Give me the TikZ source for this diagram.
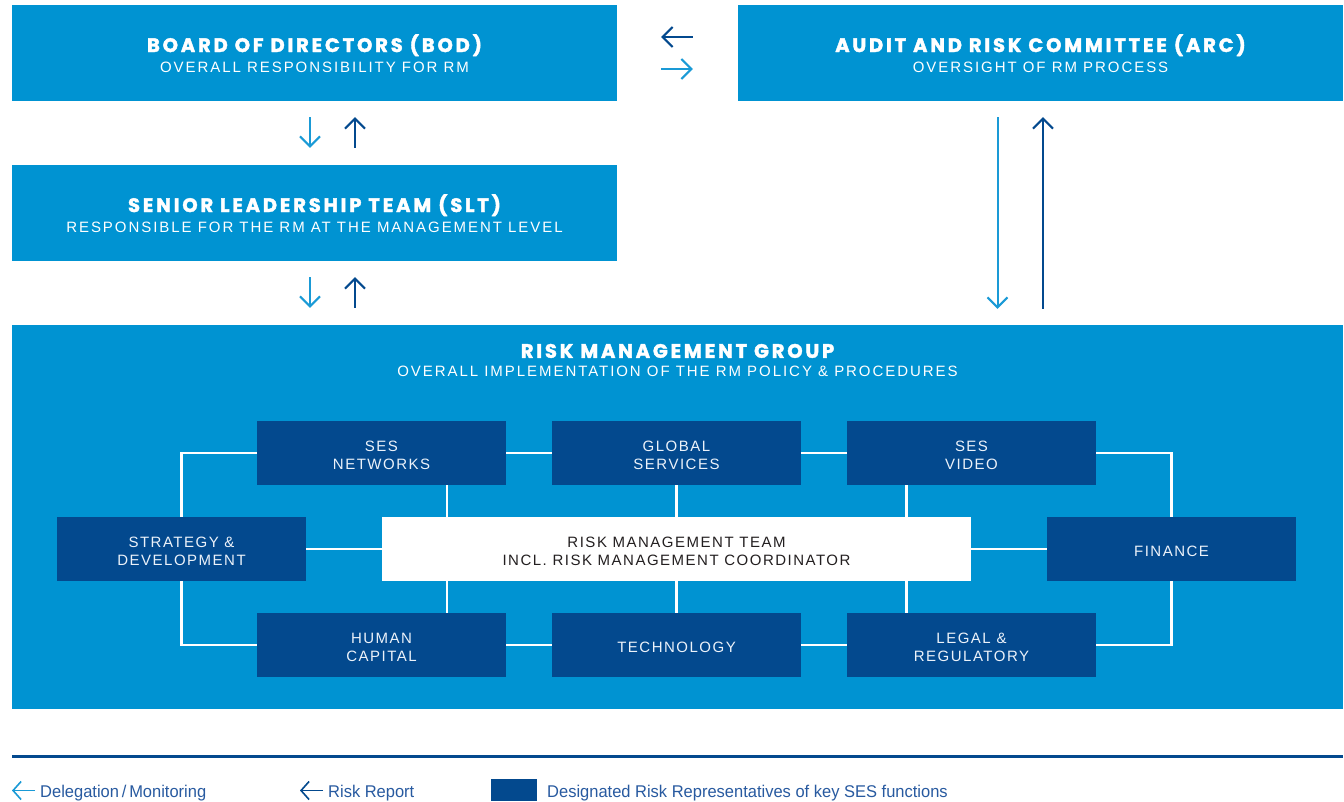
\documentclass[tikz,border=0pt]{standalone}
\usepackage{fontspec}
\setmainfont{Liberation Sans}
\newfontfamily\titlefont[LetterSpace=14.5, BoldFeatures={FakeBold=2}]{Poppins}
\newfontfamily\subfont[LetterSpace=13]{Liberation Sans}
\newfontfamily\boxfont[LetterSpace=10]{Liberation Sans}
\newfontfamily\legfont[FakeStretch=0.97]{Liberation Sans}
\usetikzlibrary{arrows.meta}
\definecolor{lblue}{RGB}{0,147,210}
\definecolor{dblue}{RGB}{3,73,142}
\definecolor{arrlight}{RGB}{26,154,214}
\definecolor{legtext}{RGB}{40,90,160}
\definecolor{teamtext}{RGB}{35,31,32}
\definecolor{boxwhite}{RGB}{236,242,250}
\newcommand\topstrut{\rule{0pt}{15.7pt}}
\begin{document}
\begin{tikzpicture}[x=1pt,y=-1pt,
  mainbox/.style={fill=lblue, inner sep=0pt, minimum width=605pt, minimum height=96pt},
  funcbox/.style={fill=dblue, inner sep=0pt, minimum width=249pt, minimum height=64pt,
    text=boxwhite, align=center, font=\boxfont\fontsize{15}{18.3}\selectfont},
  teambox/.style={fill=white, inner sep=0pt, minimum width=589pt, minimum height=64pt,
    text=teamtext, align=center, font=\boxfont\fontsize{15}{18.3}\selectfont},
  titletext/.style={text=white, inner sep=0pt, anchor=base, font=\titlefont\bfseries\fontsize{19.5}{20}\selectfont},
  subtext/.style={text=white, inner sep=0pt, anchor=base, font=\subfont\fontsize{15}{18}\selectfont},
  linkline/.style={draw=white, line width=2.5pt},
  delegate/.style={draw=arrlight, line width=2pt, -{Straight Barb[length=10pt,width=20pt]}},
  report/.style={draw=dblue, line width=2pt, -{Straight Barb[length=10pt,width=20pt]}},
  legendtext/.style={text=legtext, inner sep=0pt, anchor=base west, font=\legfont\fontsize{17}{18}\selectfont}
]
\useasboundingbox (0,0) rectangle (1344,801);
\fill[white] (0,0) rectangle (1344,801);

% main boxes
\node[mainbox] (bod) at (314.5,53) {};
\node[mainbox] (arc) at (1040.5,53) {};
\node[mainbox] (slt) at (314.5,213) {};
\node[fill=lblue, inner sep=0pt, minimum width=1331pt, minimum height=384pt] (rmg) at (677.5,517) {};

\node[titletext] (bodt) at ([yshift=1pt]bod.center) {BOARD OF DIRECTORS (BOD)};
\node[subtext] (bods) at ([yshift=-19pt]bod.center) {OVERALL RESPONSIBILITY FOR RM};
\node[titletext] (arct) at ([yshift=1pt]arc.center) {AUDIT AND RISK COMMITTEE (ARC)};
\node[subtext] (arcs) at ([yshift=-19pt]arc.center) {OVERSIGHT OF RM PROCESS};
\node[titletext] (sltt) at ([yshift=1pt]slt.center) {SENIOR LEADERSHIP TEAM (SLT)};
\node[subtext] (slts) at ([yshift=-19pt]slt.center) {RESPONSIBLE FOR THE RM AT THE MANAGEMENT LEVEL};
\node[titletext] (rmgt) at ([yshift=-33pt]rmg.north) {RISK MANAGEMENT GROUP};
\node[subtext] (rmgs) at ([yshift=-52pt]rmg.north) {OVERALL IMPLEMENTATION OF THE RM POLICY \& PROCEDURES};

% function boxes
\node[funcbox] (net) at (381.5,453) {\topstrut SES\\NETWORKS};
\node[funcbox] (glob) at (676.5,453) {\topstrut GLOBAL\\SERVICES};
\node[funcbox] (vid) at (971.5,453) {\topstrut SES\\VIDEO};
\node[funcbox] (strat) at (181.5,549) {\topstrut STRATEGY \&\\DEVELOPMENT};
\node[teambox] (team) at (676.5,549) {\topstrut RISK MANAGEMENT TEAM\\INCL. RISK MANAGEMENT COORDINATOR};
\node[funcbox] (fin) at (1171.5,549) {\topstrut FINANCE};
\node[funcbox] (hum) at (381.5,645) {\topstrut HUMAN\\CAPITAL};
\node[funcbox] (tech) at (676.5,645) {\topstrut TECHNOLOGY};
\node[funcbox] (leg) at (971.5,645) {\topstrut LEGAL \&\\REGULATORY};

% white links
\draw[linkline] (strat.north) |- (net.west);
\draw[linkline] (net.east) -- (glob.west);
\draw[linkline] (glob.east) -- (vid.west);
\draw[linkline] (vid.east) -| (fin.north);
\draw[linkline] (fin.south) |- (leg.east);
\draw[linkline] (leg.west) -- (tech.east);
\draw[linkline] (tech.west) -- (hum.east);
\draw[linkline] (hum.west) -| (strat.south);
\draw[linkline] (strat.east) -- (team.west);
\draw[linkline] (team.east) -- (fin.west);
\coordinate (v1) at ([xshift=65.5pt]net.south);
\coordinate (v3) at ([xshift=-65pt]vid.south);
\coordinate (w1) at ([xshift=65.5pt]hum.north);
\coordinate (w3) at ([xshift=-65pt]leg.north);
\draw[linkline] (v1) -- (v1 |- team.north);
\draw[linkline] (glob.south) -- (glob.south |- team.north);
\draw[linkline] (v3) -- (v3 |- team.north);
\draw[linkline] (w1) -- (w1 |- team.south);
\draw[linkline] (tech.north) -- (tech.north |- team.south);
\draw[linkline] (w3) -- (w3 |- team.south);

% arrows BOD <-> SLT
\draw[delegate] ([xshift=-4.5pt,yshift=-16pt]bod.south) -- ([xshift=-4.5pt,yshift=17pt]slt.north);
\draw[report] ([xshift=40.5pt,yshift=17pt]slt.north) -- ([xshift=40.5pt,yshift=-16pt]bod.south);
% arrows SLT <-> RMG
\draw[delegate] ([xshift=-4.5pt,yshift=-16pt]slt.south) -- ([xshift=-4.5pt,yshift=17pt]rmg.north -| slt.south);
\coordinate (s1) at ([xshift=40.5pt]slt.south);
\draw[report] ([yshift=17pt]rmg.north -| s1) -- ([yshift=-16pt]s1);
% arrows BOD <-> ARC
\draw[report] ([xshift=-45pt,yshift=16pt]arc.west) -- ([xshift=44pt,yshift=16pt]bod.east);
\draw[delegate] ([xshift=44pt,yshift=-16pt]bod.east) -- ([xshift=-45pt,yshift=-16pt]arc.west);
% arrows ARC <-> RMG
\coordinate (a1) at ([xshift=-43pt]arc.south);
\coordinate (a2) at ([xshift=2.5pt]arc.south);
\draw[delegate] ([yshift=-16pt]a1) -- ([yshift=16pt]rmg.north -| a1);
\draw[report] ([yshift=16pt]rmg.north -| a2) -- ([yshift=-16pt]a2);

% legend
\coordinate (ll) at (12,756.5);
\coordinate (lr) at (1343,756.5);
\draw[dblue, line width=2.7pt] (ll) -- (lr);
\coordinate (la1) at (12,790.5);
\coordinate (la2) at (300,790.5);
\draw[delegate, line width=1.6pt, -{Straight Barb[length=8pt,width=18pt]}] ([xshift=23pt]la1) -- (la1);
\node[legendtext] (lt1) at (40,797) {Delegation\,/\,Monitoring};
\draw[report, line width=1.6pt, -{Straight Barb[length=8pt,width=18pt]}] ([xshift=23pt]la2) -- (la2);
\node[legendtext] (lt2) at (328,797) {Risk Report};
\node[fill=dblue, inner sep=0pt, minimum width=46pt, minimum height=22pt, anchor=north west] (lsq) at (491,779) {};
\node[legendtext] (lt3) at (547,797) {Designated Risk Representatives of key SES functions};
\end{tikzpicture}
\end{document}
